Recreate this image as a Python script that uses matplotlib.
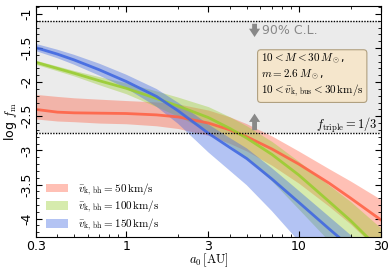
import numpy as np
import matplotlib
matplotlib.use('Agg')
import matplotlib.pyplot as plt
from matplotlib.patches import Patch
from matplotlib.ticker import FixedLocator, NullFormatter, LogLocator

plt.rcParams['mathtext.fontset'] = 'cm'

# separation a0 [AU]
a0 = np.array([0.3, 0.4, 0.5, 0.7, 1, 1.5, 2, 3, 4, 5, 7, 10, 15, 20, 30])

# v_k,bh = 50 km/s
red_mid = np.array([-2.40, -2.44, -2.45, -2.455, -2.46, -2.48, -2.51, -2.60, -2.70, -2.80, -2.98, -3.20, -3.48, -3.70, -4.02])
red_hi = np.array([-2.18, -2.21, -2.23, -2.25, -2.27, -2.29, -2.32, -2.41, -2.51, -2.61, -2.79, -3.01, -3.27, -3.45, -3.72])
red_lo = np.array([-2.54, -2.57, -2.58, -2.60, -2.61, -2.64, -2.68, -2.78, -2.90, -3.01, -3.22, -3.48, -3.82, -4.08, -4.50])

# v_k,bh = 100 km/s
green_mid = np.array([-1.71, -1.80, -1.87, -1.98, -2.09, -2.24, -2.35, -2.52, -2.68, -2.82, -3.06, -3.36, -3.75, -4.03, -4.47])
green_hi = np.array([-1.68, -1.765, -1.83, -1.92, -2.01, -2.13, -2.22, -2.36, -2.51, -2.64, -2.87, -3.16, -3.51, -3.75, -4.14])
green_lo = np.array([-1.74, -1.835, -1.91, -2.04, -2.17, -2.36, -2.50, -2.72, -2.93, -3.12, -3.45, -3.86, -4.33, -4.68, -5.19])

# v_k,bh = 150 km/s
blue_mid = np.array([-1.495, -1.59, -1.675, -1.82, -1.99, -2.21, -2.42, -2.75, -2.96, -3.12, -3.42, -3.76, -4.15, -4.42, -4.85])
blue_hi = np.array([-1.44, -1.525, -1.60, -1.73, -1.89, -2.10, -2.30, -2.62, -2.82, -2.97, -3.26, -3.59, -3.97, -4.24, -4.66])
blue_lo = np.array([-1.545, -1.65, -1.745, -1.905, -2.09, -2.36, -2.61, -3.03, -3.30, -3.51, -3.89, -4.33, -4.80, -5.12, -5.65])

cl_limit = -1.105      # 90% C.L. upper limit
triple_limit = -2.745  # f_triple = 1/3

labels = [r'$\bar{v}_{\rm k,\,bh} = 50\,{\rm km/s}$',
          r'$\bar{v}_{\rm k,\,bh} = 100\,{\rm km/s}$',
          r'$\bar{v}_{\rm k,\,bh} = 150\,{\rm km/s}$']
colors = ['tomato', 'yellowgreen', 'royalblue']

fig = plt.figure(figsize=(3.9, 2.7), dpi=100)
ax = fig.add_axes([0.092, 0.122, 0.885, 0.857])

ax.axhspan(triple_limit, cl_limit, color='#ebebeb', lw=0, zorder=0)
ax.axhline(cl_limit, color='k', ls=(0, (1, 1)), lw=1, zorder=5)
ax.axhline(triple_limit, color='k', ls=(0, (1, 1)), lw=1, zorder=5)

series = [(red_mid, red_lo, red_hi), (green_mid, green_lo, green_hi), (blue_mid, blue_lo, blue_hi)]
for (mid, lo, hi), c in zip(series, colors):
    ax.fill_between(a0, lo, hi, color=c, alpha=0.4, lw=0)
    ax.plot(a0, mid, color=c, lw=2, alpha=0.9)

# arrows and annotations
arrow = dict(arrowstyle='simple,head_width=0.8,head_length=0.6,tail_width=0.35',
             color='#888888', lw=0)
ax.annotate('', xy=(5.55, -1.38), xytext=(5.55, cl_limit), arrowprops=arrow)
ax.annotate('', xy=(5.55, -2.42), xytext=(5.55, triple_limit), arrowprops=arrow)
ax.text(6.1, -1.25, '90% C.L.', color='#888888', fontsize=9, va='center', ha='left')
ax.text(28.5, -2.68, r'$f_{\rm triple} = 1/3$', fontsize=9, ha='right', va='baseline')

ax.text(0.652, 0.80,
        r'$10 < M < 30\,M_\odot$,' '\n' r'$m = 2.6\,M_\odot$,' '\n'
        r'$10 < \bar{v}_{\rm k,\,bus} < 30\,{\rm km/s}$',
        transform=ax.transAxes, fontsize=8, va='top', ha='left', linespacing=1.1,
        bbox=dict(boxstyle='round,pad=0.3', fc='#f5e6cc', ec='#b0a080', lw=0.8))

handles = [Patch(facecolor=c, alpha=0.4, lw=0) for c in colors]
ax.legend(handles, labels, loc='lower left', frameon=False, fontsize=8,
          handlelength=2.0, handleheight=0.8, labelspacing=0.12,
          handletextpad=0.9, bbox_to_anchor=(0.0, -0.025))

ax.set_xscale('log')
ax.set_xlim(0.3, 30)
ax.set_ylim(-4.27, -0.88)
ax.set_xticks([0.3, 1, 3, 10, 30])
ax.set_xticklabels(['0.3', '1', '3', '10', '30'])
ax.xaxis.set_minor_locator(LogLocator(base=10, subs=np.arange(2, 10)))
ax.xaxis.set_minor_formatter(NullFormatter())
yt = [-1, -1.5, -2, -2.5, -3, -3.5, -4]
ax.set_yticks(yt)
ax.set_yticklabels(['-1', '-1.5', '-2', '-2.5', '-3', '-3.5', '-4'], rotation=90, va='center')
ax.yaxis.set_minor_locator(FixedLocator(np.arange(-4.2, -0.85, 0.1)))
ax.tick_params(which='both', direction='in', top=True, right=True, labelsize=9)
ax.tick_params(which='major', length=4)
ax.tick_params(which='minor', length=2)
ax.tick_params(axis='x', pad=2)
ax.tick_params(axis='y', pad=2)

ax.set_xlabel(r'$a_0\,[{\rm AU}]$', fontsize=9, labelpad=-1)
ax.set_ylabel(r'log $f_{\rm m}$', fontsize=9, labelpad=1)

fig.savefig('out.png', dpi=100)
